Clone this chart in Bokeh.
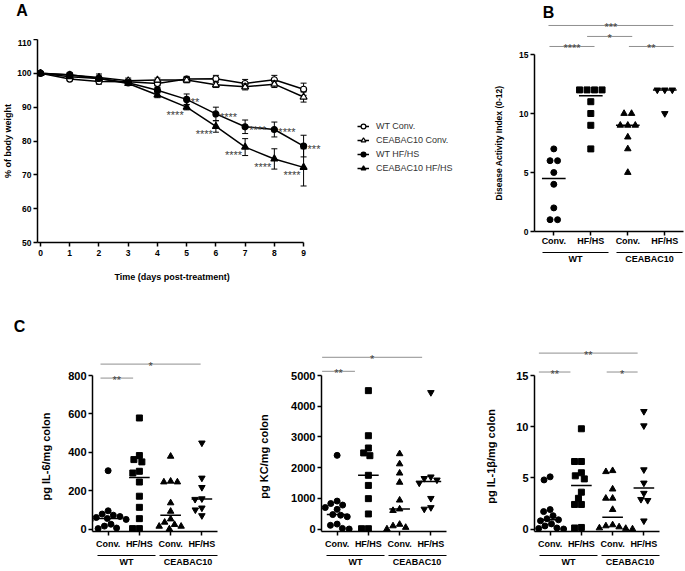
import math
import numpy as np
from bokeh.plotting import figure
from bokeh.models import (Range1d, FixedTicker, Legend, LegendItem, Label, LinearAxis, Title)
from bokeh.layouts import row, column
from bokeh.embed import file_html
from bokeh.resources import INLINE
from bokeh.core.properties import value

FONT = "Liberation Sans"

# ---------------- data: panel A (body weight, mean +/- SEM) ----------------
days = [0, 1, 2, 3, 4, 5, 6, 7, 8, 9]
wt_conv = [100.0, 98.3, 97.6, 97.5, 97.0, 98.3, 98.4, 97.0, 98.1, 95.3]
wt_conv_sem = [0.3, 0.5, 0.8, 0.7, 0.7, 0.8, 1.0, 1.2, 1.3, 1.8]
cea_conv = [100.0, 99.5, 98.8, 97.8, 98.0, 98.0, 96.6, 96.0, 96.8, 93.0]
cea_conv_sem = [0.3, 0.5, 1.0, 0.8, 0.6, 0.8, 0.8, 0.9, 1.0, 1.5]
wt_hfhs = [100.0, 99.6, 98.5, 97.2, 95.0, 92.3, 88.0, 84.2, 83.4, 78.5]
wt_hfhs_sem = [0.3, 0.5, 0.7, 0.8, 0.8, 1.6, 2.0, 2.0, 2.2, 3.2]
cea_hfhs = [100.0, 99.0, 98.5, 97.0, 93.6, 90.0, 84.3, 78.2, 74.7, 72.2]
cea_hfhs_sem = [0.3, 0.5, 0.6, 0.6, 0.8, 0.8, 1.7, 2.5, 3.0, 5.5]
weight_names = ["WT Conv.", "CEABAC10 Conv.", "WT HF/HS", "CEABAC10 HF/HS"]
weight_x_ticks = [0, 1, 2, 3, 4, 5, 6, 7, 8, 9]
weight_y_ticks = [50, 60, 70, 80, 90, 100, 110]
stars_wt_days = [5, 6, 7, 8, 9]
stars_wt_text = ["**", "****", "****", "****", "***"]
stars_cea_days = [5, 6, 7, 8, 9]
stars_cea_text = ["****", "****", "****", "****", "****"]

# ---------------- data: panel B (DAI) ----------------
group_labels = ["Conv.", "HF/HS", "Conv.", "HF/HS"]
strain_labels = ["WT", "CEABAC10"]
dai_wt_conv = [7, 6, 6, 5, 4, 2, 1, 1]
dai_wt_hfhs = [12, 12, 12, 12, 11, 10, 9, 7]
dai_cea_conv = [10, 10, 9, 9, 9, 8, 7, 5]
dai_cea_hfhs = [12, 12, 12, 10]
dai_ticks = [0, 5, 10, 15]
# significance brackets: (x start, x end, level in data units, stars)
dai_sig = [(0.883, 2.10, 15.68, "****"), (1.90, 3.12, 16.53, "*"),
           (3.03, 4.24, 15.68, "**"), (0.856, 4.23, 17.46, "***")]

# ---------------- data: panel C (cytokines) ----------------
il6_wt_conv = [304, 95, 78, 72, 65, 60, 55, 50, 45, 25, 15, 5, 2]
il6_wt_hfhs = [579, 383, 362, 350, 301, 292, 245, 171, 113, 54, 2, 2]
il6_cea_conv = [379, 249, 245, 245, 136, 92, 52, 35, 23, 14, 14, 0]
il6_cea_hfhs = [449, 266, 217, 158, 155, 110, 100, 70]
kc_wt_conv = [2400, 910, 830, 780, 700, 640, 470, 450, 400, 160, 120, 20, 0]
kc_wt_hfhs = [4510, 3040, 2640, 2480, 2390, 1750, 1420, 990, 490, 10, 10]
kc_cea_conv = [2450, 2120, 1820, 1520, 940, 650, 600, 150, 100, 50, 0]
kc_cea_hfhs = [4450, 1700, 1650, 1600, 1500, 1000, 700, 650]
il1b_wt_conv = [5.1, 4.8, 1.9, 1.7, 1.3, 1.0, 0.9, 0.8, 0.5, 0.3, 0.1, 0.05, 0.0]
il1b_wt_hfhs = [9.8, 6.6, 6.6, 5.5, 5.2, 4.9, 3.6, 3.0, 2.4, 2.4, 0.15, 0.1]
il1b_cea_conv = [5.7, 5.6, 3.9, 3.0, 3.0, 1.9, 0.4, 0.3, 0.2, 0.1, 0.05, 0.0]
il1b_cea_hfhs = [11.5, 10.1, 5.8, 4.5, 3.5, 2.9, 2.8, 0.8]
c_titles = ["pg IL-6/mg colon", "pg KC/mg colon", "pg IL-1\u03b2/mg colon"]
c_title_len_em = [8.0, 7.67, 8.6]
c_ticks = [[0, 200, 400, 600, 800], [0, 1000, 2000, 3000, 4000, 5000], [0, 5, 10, 15]]
c_sig = [
    [(0.756, 1.80, 787, "**"), (0.756, 3.96, 860, "*")],
    [(0.52, 1.57, 5140, "**"), (0.52, 3.72, 5597, "*")],
    [(0.64, 1.65, 15.35, "**"), (2.81, 3.80, 15.35, "*"), (0.64, 3.80, 17.2, "**")],
]
c_data = [
    [il6_wt_conv, il6_wt_hfhs, il6_cea_conv, il6_cea_hfhs],
    [kc_wt_conv, kc_wt_hfhs, kc_cea_conv, kc_cea_hfhs],
    [il1b_wt_conv, il1b_wt_hfhs, il1b_cea_conv, il1b_cea_hfhs],
]

MARKERS = ["circle", "square", "triangle", "inverted_triangle"]
STAR_COLOR = "#3c3c3c"
SIG_LINE = "#8f8f8f"
K_H = 1.35   # text box height / font size (for titles)


def make_fig(w, h, xr, yr, bl, br, bt, bb, axes=True):
    kw = {} if axes else dict(x_axis_location=None, y_axis_location=None)
    p = figure(width=w, height=h, x_range=xr, y_range=yr, title=None,
               output_backend="svg", toolbar_location=None, frame_align=False,
               min_border_left=bl, min_border_right=br, min_border_top=bt,
               min_border_bottom=bb, **kw)
    p.grid.visible = False
    p.outline_line_color = None
    p.background_fill_color = "white"
    p.border_fill_color = "white"
    return p


def style_axis(ax, fs):
    ax.axis_line_width = 1.5
    ax.axis_line_color = "black"
    ax.major_tick_line_width = 1.5
    ax.major_tick_line_color = "black"
    ax.major_tick_out = 4
    ax.major_tick_in = 0
    ax.minor_tick_out = 0
    ax.minor_tick_in = 0
    ax.major_label_text_font = FONT
    ax.major_label_text_font_size = fs
    ax.major_label_text_font_style = "bold"
    ax.major_label_text_color = "black"
    ax.major_label_standoff = 2
    ax.axis_label_text_font = FONT
    ax.axis_label_text_font_style = "bold"
    ax.axis_label_text_color = "black"


def digit_w(s, size):
    return 0.556 * size * len(s)


def cat_axis(p, fs, standoff, spacer):
    p.xaxis.ticker = FixedTicker(ticks=[1, 2, 3, 4])
    p.xaxis.major_label_overrides = {i + 1: g for i, g in enumerate(group_labels)}
    p.xaxis.major_label_text_font_size = fs
    p.xaxis.major_label_standoff = standoff
    p.xaxis.axis_label = " "
    p.xaxis.axis_label_text_font_size = spacer
    p.xaxis.axis_label_standoff = 0


def group_axes(p, under, gap_px, fs):
    """Underlines (one axis rule with a white gap) and strain labels below the categories."""
    (a0, a1), (b0, b1) = under
    gap = round((a1 + b0) / 2, 3)
    ax_u = LinearAxis(bounds=(a0, b1), ticker=FixedTicker(ticks=[gap]),
                      major_label_overrides={gap: ""})
    ax_u.axis_line_width = 1.2
    ax_u.axis_line_color = "black"
    ax_u.major_tick_line_color = "white"
    ax_u.major_tick_line_width = gap_px
    ax_u.major_tick_in = 2
    ax_u.major_tick_out = 1
    ax_u.minor_tick_out = 0
    ax_u.minor_tick_in = 0
    ax_u.major_label_text_font_size = "0px"
    ax_u.major_label_standoff = 0
    p.add_layout(ax_u, "below")
    centers = [round((a0 + a1) / 2, 3), round((b0 + b1) / 2, 3)]
    ax_g = LinearAxis(ticker=FixedTicker(ticks=centers),
                      major_label_overrides={c: s for c, s in zip(centers, strain_labels)})
    ax_g.axis_line_color = None
    ax_g.major_tick_line_color = None
    ax_g.major_tick_out = 0
    ax_g.major_tick_in = 0
    ax_g.minor_tick_out = 0
    ax_g.minor_tick_in = 0
    ax_g.major_label_standoff = 0
    ax_g.major_label_text_font = FONT
    ax_g.major_label_text_font_size = fs
    ax_g.major_label_text_font_style = "bold"
    ax_g.major_label_text_color = "black"
    p.add_layout(ax_g, "below")


def side_title(p, text, size, offset, standoff, place, align="left"):
    p.add_layout(Title(text=text, align=align, offset=offset, standoff=standoff,
                       text_font=FONT, text_font_size="%gpx" % size, text_font_style="bold",
                       text_color="black"), place)


def swarm_px(vals, ppu, d):
    order = sorted(range(len(vals)), key=lambda k: -vals[k])
    placed = []
    offs = [0.0] * len(vals)
    for k in order:
        y = vals[k] * ppu
        forb = []
        for xj, yj in placed:
            dy = abs(y - yj)
            if dy < d:
                w = math.sqrt(d * d - dy * dy)
                forb.append((xj - w, xj + w))
        cands = [0.0] + [a for a, b in forb] + [b for a, b in forb]
        cands.sort(key=lambda c: (abs(c), c))
        for c in cands:
            if all(c <= a + 1e-6 or c >= b - 1e-6 for a, b in forb):
                offs[k] = c
                break
        placed.append((offs[k], y))
    return offs


def row_px(vals, step):
    counts = {}
    for v in vals:
        counts[v] = counts.get(v, 0) + 1
    seen = {}
    offs = []
    for v in vals:
        k = seen.get(v, 0)
        seen[v] = k + 1
        offs.append((k - (counts[v] - 1) / 2.0) * step)
    return offs


def sig_brackets(p, sig):
    for x0, x1, lev, st in sig:
        p.segment(x0=[x0], x1=[x1], y0=[lev], y1=[lev], line_color=SIG_LINE, line_width=1)
        p.text(x=[(x0 + x1) / 2], y=[lev], text=[st], text_font=value(FONT),
               text_font_size="11px", text_align="center", text_baseline="alphabetic",
               y_offset=2, text_color=STAR_COLOR)


# ======================= Panel A =======================
A_W, A_TOP_H, A_MAIN_H = 475, 39, 261
A_BL, A_FH, A_BB = 36, 199, 58
A_PPD = 29.3
XA0 = -3.0 / A_PPD
XA1 = XA0 + (A_W - A_BL) / A_PPD

topA = make_fig(A_W, A_TOP_H, Range1d(0, A_W), Range1d(A_TOP_H, 0), 0, 0, 0, 0, axes=False)
topA.add_layout(Label(x=21.5, y=10, text="A", text_align="center", text_baseline="middle",
                      text_font=FONT, text_font_size="16px", text_font_style="bold",
                      text_color="black"))

pA = make_fig(A_W, A_MAIN_H, Range1d(XA0, XA1), Range1d(50, 110), A_BL, 0, 0, A_BB)
for ax in pA.axis:
    style_axis(ax, "8.5px")
pA.xaxis.ticker = FixedTicker(ticks=weight_x_ticks)
pA.yaxis.ticker = FixedTicker(ticks=weight_y_ticks)
pA.xaxis.bounds = (XA0, 9)
pA.xaxis.major_label_standoff = 3
pA.yaxis.axis_label = "% of body weight"
pA.yaxis.axis_label_text_font_size = "9px"
pA.yaxis.axis_label_standoff = 1
side_title(pA, "Time (days post-treatment)", 9, 77, 22, "below")

series = [(wt_conv, wt_conv_sem, "circle", "white", 6),
          (cea_conv, cea_conv_sem, "triangle", "white", 7),
          (wt_hfhs, wt_hfhs_sem, "circle", "black", 6),
          (cea_hfhs, cea_hfhs_sem, "triangle", "black", 7)]
items = []
for name, (vals, sem, mk, fill, sz) in zip(weight_names, series):
    lo = [v - e for v, e in zip(vals, sem)]
    hi = [v + e for v, e in zip(vals, sem)]
    pA.segment(x0=days, y0=lo, x1=days, y1=hi, line_color="black", line_width=1)
    pA.scatter(x=days + days, y=lo + hi, marker="dash", size=6, line_color="black", line_width=1)
    lr = pA.line(days, vals, line_color="black", line_width=1.5)
    sr = pA.scatter(days, vals, marker=mk, size=sz, fill_color=fill, line_color="black",
                    line_width=1.2)
    items.append(LegendItem(label=name, renderers=[lr, sr]))

leg = Legend(items=items, location=(356 - A_BL, 242 - 175), orientation="vertical",
             glyph_width=12, glyph_height=14, label_height=14, spacing=0, padding=0, margin=0,
             label_standoff=7, border_line_color=None, background_fill_alpha=0,
             label_text_font=FONT, label_text_font_size="9px", label_text_color="#333333")
pA.add_layout(leg)

wt_star_y = [wt_hfhs[days.index(d)] for d in stars_wt_days]
cea_star_y = [cea_hfhs[days.index(d)] for d in stars_cea_days]
pA.text(x=stars_wt_days, y=wt_star_y, text=stars_wt_text, text_font=value(FONT),
        text_font_size="11px", text_align="left", text_baseline="alphabetic",
        x_offset=4, y_offset=3, text_color=STAR_COLOR)
pA.text(x=stars_cea_days, y=cea_star_y, text=stars_cea_text, text_font=value(FONT),
        text_font_size="11px", text_align="right", text_baseline="alphabetic",
        x_offset=-3, y_offset=8, text_color=STAR_COLOR)

# ======================= Panel B =======================
B_X, B_W, B_H = 475, 210, 300
B_AX = 534                      # page x of the y axis
B_BL, B_BR = B_AX - B_X, 2
B_PPX = 37.0
BX0 = 1 - 19.3 / B_PPX
BX1 = BX0 + (B_W - B_BL - B_BR) / B_PPX
B_FB = 231                      # page y of the x axis
B_BB = B_H - B_FB
B_PPU = 11.8

pB = make_fig(B_W, B_H, Range1d(BX0, BX1), Range1d(0, B_FB / B_PPU), B_BL, B_BR, 0, B_BB)
for ax in pB.axis:
    style_axis(ax, "8.5px")
pB.yaxis.ticker = FixedTicker(ticks=dai_ticks)
pB.yaxis.bounds = (0, dai_ticks[-1])
cat_axis(pB, "9px", 0, "1.3px")
group_axes(pB, [(0.69, 2.48), (2.70, 4.47)], 8, "9px")
b_title = "Disease Activity Index (0-12)"
b_len = 13.5 * 8.5
b_axis_left = B_AX - 6 - digit_w("15", 8.5)
side_title(pB, b_title, 8.5, round(B_FB - 142.5 - b_len / 2, 1),
           round(2 * (b_axis_left - 8.5 * K_H / 2 - 500), 1), "left")
pB.add_layout(Label(x=BX0 + (548 - B_AX) / B_PPX, y=(B_FB - 12) / B_PPU, text="B",
                    text_align="center", text_baseline="middle", text_font=FONT,
                    text_font_size="16px", text_font_style="bold", text_color="black"))

for gi, vals in enumerate([dai_wt_conv, dai_wt_hfhs, dai_cea_conv, dai_cea_hfhs]):
    offs = row_px(vals, 7.5)
    xs = [gi + 1 + o / B_PPX for o in offs]
    pB.scatter(xs, vals, marker=MARKERS[gi], size=6 if gi < 2 else 6.5, fill_color="black",
               line_color="black")
    med = float(np.median(vals))
    pB.segment(x0=[gi + 1 - 0.32], x1=[gi + 1 + 0.32], y0=[med], y1=[med],
               line_color="black", line_width=1.5)
sig_brackets(pB, dai_sig)

# ======================= Panel C =======================
C_XS = [0, 235, 462]
C_WS = [235, 227, 223]
C_AXS = [92, 321, 534]
C_FW = 125
C_PPX = C_FW / 4.0
C_Y, C_H = 300, 271
C_BT, C_BB = 40, 40
C_FB = C_Y + C_H - C_BB        # page y of the x axis
C_FT = C_Y + C_BT
C_PAD = 2.5
C_AXIS_PX = 153.4
C_TITLE_X = [47, 265, 491.7]
C_TITLE_Y = 456

figsC = []
for i in range(3):
    top = c_ticks[i][-1]
    ppu = C_AXIS_PX / top
    y0 = -C_PAD / ppu
    y1 = y0 + (C_FB - C_FT) / ppu
    bl = C_AXS[i] - C_XS[i]
    br = C_WS[i] - bl - C_FW

    p = make_fig(C_WS[i], C_H, Range1d(0.5, 4.5), Range1d(y0, y1), bl, br, C_BT, C_BB)
    for ax in p.axis:
        style_axis(ax, "11px")
    p.yaxis.ticker = FixedTicker(ticks=c_ticks[i])
    p.yaxis.bounds = (y0, top)
    cat_axis(p, "9px", 3, "1.2px")
    group_axes(p, [(0.65, 2.52), (2.62, 4.49)], 4, "9px")

    axis_left = C_AXS[i] - 6 - digit_w(str(top), 11)
    t_len = c_title_len_em[i] * 11
    side_title(p, c_titles[i], 11, round(C_FB - C_TITLE_Y - t_len / 2, 1),
               round(2 * (axis_left - 11 * K_H / 2 - C_TITLE_X[i]), 1), "left")
    if i == 0:
        side_title(p, "C", 16, round(19 - 0.722 * 16 / 2 - C_AXS[0], 1), 12, "above")

    for gi, vals in enumerate(c_data[i]):
        offs = swarm_px(vals, ppu, 6.8)
        xs = [gi + 1 + o / C_PPX for o in offs]
        p.scatter(xs, vals, marker=MARKERS[gi], size=6 if gi < 2 else 6.5, fill_color="black",
                  line_color="black")
        med = float(np.median(vals))
        p.segment(x0=[gi + 1 - 0.33], x1=[gi + 1 + 0.33], y0=[med], y1=[med],
                  line_color="black", line_width=1.5)
    sig_brackets(p, c_sig[i])
    figsC.append(p)

layout = column(row(column(topA, pA), pB), row(*figsC))
open("out.html", "w").write(file_html(layout, INLINE))
